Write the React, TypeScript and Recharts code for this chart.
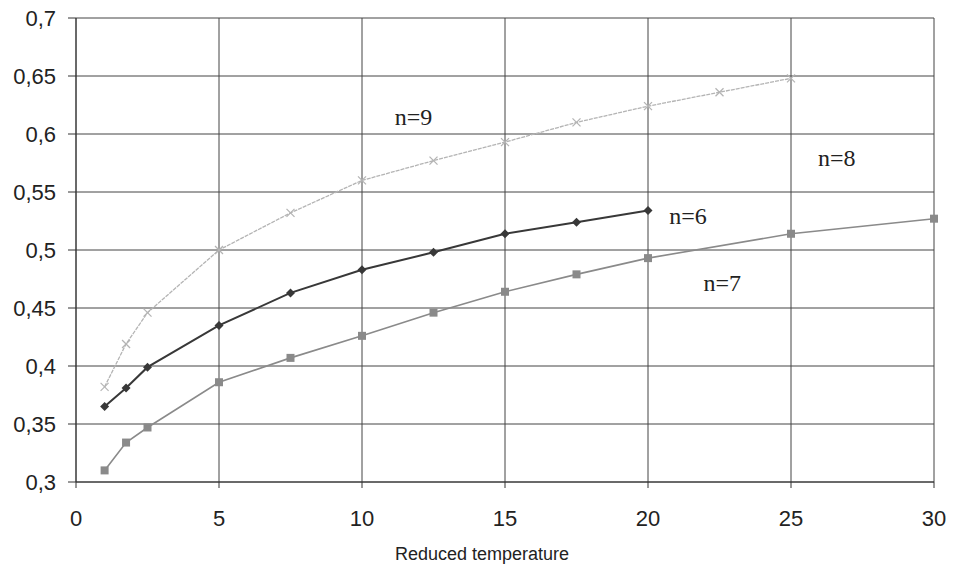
import React from "react";
import {
  LineChart,
  Line,
  XAxis,
  YAxis,
  CartesianGrid,
  ReferenceDot,
} from "recharts";

// ---- data ----
const tempN9 = [1, 1.75, 2.5, 5, 7.5, 10, 12.5, 15, 17.5, 20, 22.5, 25];
const valuesN9 = [0.382, 0.419, 0.446, 0.5, 0.532, 0.56, 0.577, 0.593, 0.61, 0.624, 0.636, 0.648];

const tempN6 = [1, 1.75, 2.5, 5, 7.5, 10, 12.5, 15, 17.5, 20];
const valuesN6 = [0.365, 0.381, 0.399, 0.435, 0.463, 0.483, 0.498, 0.514, 0.524, 0.534];

const tempN7 = [1, 1.75, 2.5, 5, 7.5, 10, 12.5, 15, 17.5, 20, 25, 30];
const valuesN7 = [0.31, 0.334, 0.347, 0.386, 0.407, 0.426, 0.446, 0.464, 0.479, 0.493, 0.514, 0.527];

const xTicks = [0, 5, 10, 15, 20, 25, 30];
const yTicks = [0.3, 0.35, 0.4, 0.45, 0.5, 0.55, 0.6, 0.65, 0.7];

// curve labels: [text, x, y]
const curveLabels: [string, number, number][] = [
  ["n=9", 11.8, 0.615],
  ["n=8", 26.6, 0.58],
  ["n=6", 21.4, 0.53],
  ["n=7", 22.6, 0.472],
];

const toPoints = (xs: number[], ys: number[]) => xs.map((t, i) => ({ t, v: ys[i] }));

const colors = {
  grid: "#444",
  axis: "#333",
  text: "#222",
  n9: "#b4b4b4",
  n6: "#383838",
  n7: "#8a8a8a",
};

const sans = "Liberation Sans, Arial, sans-serif";
const serif = "Liberation Serif, Times New Roman, serif";

const fmt = (v: number) => String(v).replace(".", ",");

const CrossDot = (props: any) => {
  const { cx, cy } = props;
  if (cx == null || cy == null) return null;
  const s = 4;
  return (
    <g stroke={colors.n9} strokeWidth={1.2}>
      <line x1={cx - s} y1={cy - s} x2={cx + s} y2={cy + s} />
      <line x1={cx - s} y1={cy + s} x2={cx + s} y2={cy - s} />
    </g>
  );
};

const DiamondDot = (props: any) => {
  const { cx, cy } = props;
  if (cx == null || cy == null) return null;
  const s = 4.5;
  return (
    <path
      d={`M${cx},${cy - s} L${cx + s},${cy} L${cx},${cy + s} L${cx - s},${cy} Z`}
      fill={colors.n6}
    />
  );
};

const SquareDot = (props: any) => {
  const { cx, cy } = props;
  if (cx == null || cy == null) return null;
  const s = 4;
  return <rect x={cx - s} y={cy - s} width={2 * s} height={2 * s} fill={colors.n7} />;
};

export default function App() {
  return (
    <div style={{ position: "absolute", left: 0, top: 0, background: "#fff" }}>
      <LineChart
        width={953}
        height={572}
        margin={{ top: 18, right: 19, bottom: 44, left: 16 }}
      >
        <CartesianGrid stroke={colors.grid} strokeWidth={1} />
        <XAxis
          type="number"
          dataKey="t"
          domain={[0, 30]}
          ticks={xTicks}
          interval={0}
          stroke={colors.axis}
          tickSize={6}
          tickMargin={22}
          height={46}
          tick={{ fill: colors.text, fontSize: 22, fontFamily: sans }}
          label={{
            value: "Reduced temperature",
            position: "bottom",
            offset: 19,
            dx: -23,
            fill: colors.text,
            fontSize: 18,
            fontFamily: sans,
          }}
        />
        <YAxis
          type="number"
          domain={[0.3, 0.7]}
          ticks={yTicks}
          interval={0}
          width={60}
          stroke={colors.axis}
          tickSize={8}
          tickMargin={12}
          tickFormatter={fmt}
          tick={{ fill: colors.text, fontSize: 22, fontFamily: sans }}
        />
        <Line
          data={toPoints(tempN9, valuesN9)}
          dataKey="v"
          stroke={colors.n9}
          strokeWidth={1.3}
          strokeDasharray="4 1"
          dot={<CrossDot />}
          isAnimationActive={false}
        />
        <Line
          data={toPoints(tempN7, valuesN7)}
          dataKey="v"
          stroke={colors.n7}
          strokeWidth={1.6}
          dot={<SquareDot />}
          isAnimationActive={false}
        />
        <Line
          data={toPoints(tempN6, valuesN6)}
          dataKey="v"
          stroke={colors.n6}
          strokeWidth={2}
          dot={<DiamondDot />}
          isAnimationActive={false}
        />
        {curveLabels.map(([text, x, y]) => (
          <ReferenceDot
            key={text}
            x={x}
            y={y}
            r={0}
            stroke="none"
            fill="none"
            label={{
              value: text,
              position: "center",
              fill: colors.text,
              fontSize: 24,
              fontFamily: serif,
            }}
          />
        ))}
      </LineChart>
    </div>
  );
}
